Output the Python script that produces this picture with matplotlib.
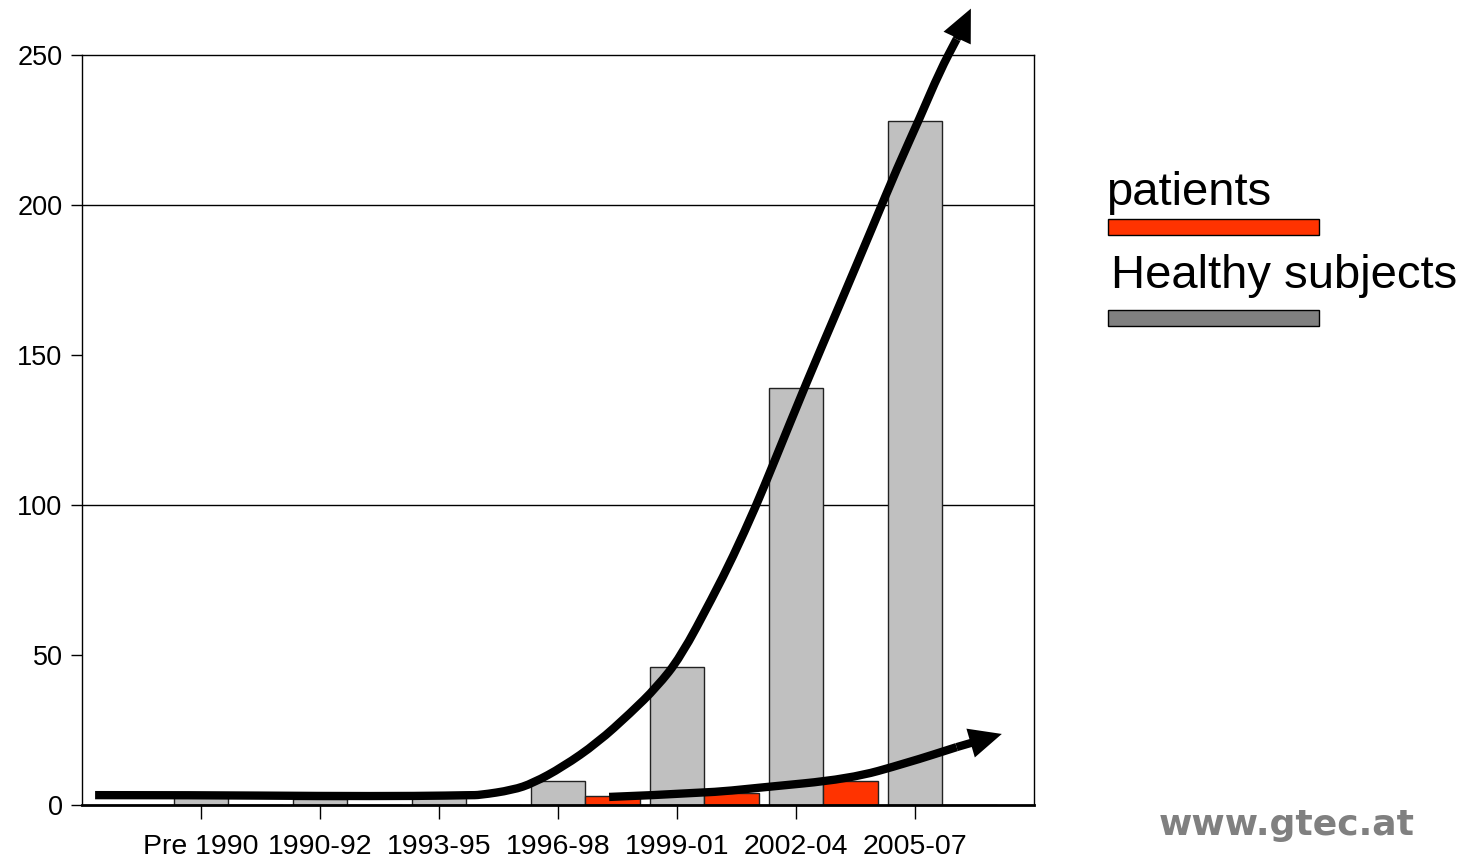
import matplotlib.pyplot as plt
from matplotlib.patches import FancyArrowPatch, PathPatch
from matplotlib.path import Path

categories = ['Pre 1990', '1990-92', '1993-95', '1996-98', '1999-01', '2002-04', '2005-07']
healthy = [3, 2, 3, 8, 46, 139, 228]
patients = [0, 0, 0, 3, 4, 8, 0]

# hand-drawn trend arrows (data units)
trend_healthy_x = [0.11, 0.99, 2.0, 2.84, 3.26, 3.34, 3.62, 3.79, 4.04, 4.33, 4.61, 4.83,
                   5.03, 5.30, 5.47, 5.66, 5.81, 6.09, 6.37, 6.65, 6.85, 7.04, 7.21,
                   7.35, 7.47]
trend_healthy_y = [3.3, 3.3, 3.0, 3.0, 3.3, 3.3, 5.0, 7.3, 12.7, 20.7, 30.7, 39.3,
                   49.3, 69.3, 82.7, 99.3, 113.7, 141, 167, 193.3, 212.3, 229, 244.7,
                   255.3, 265.5]
trend_patients_x = [4.43, 5.25, 5.67, 6.45, 6.93, 7.35, 7.73]
trend_patients_y = [2.7, 4.0, 5.7, 8.7, 14.0, 19.3, 23.7]

plt.rcParams['font.family'] = ['Liberation Sans', 'DejaVu Sans']

fig = plt.figure(figsize=(14.83, 8.61), dpi=100)
ax = fig.add_axes([0.0553, 0.065, 0.6419, 0.871])

w = 0.46
xs = range(1, len(categories) + 1)
ax.bar(xs, healthy, width=w, color='#c0c0c0', edgecolor='#222222', linewidth=1, zorder=2)
ax.bar([x + w for x in xs], patients, width=w, color='#ff3300', edgecolor='#222222',
       linewidth=1, zorder=2)

ax.set_xlim(0, 8)
ax.set_ylim(0, 250)
ax.set_yticks([0, 50, 100, 150, 200, 250])
ax.set_xticks(list(xs))
ax.set_xticklabels(categories, fontsize=20.5)
ax.tick_params(axis='y', labelsize=19.5, length=8, width=1, pad=6)
ax.tick_params(axis='x', length=10, width=1, pad=11)

for yv in (100, 200):
    ax.axhline(yv, color='black', linewidth=1, zorder=1)

for s in ('top', 'right', 'left'):
    ax.spines[s].set_linewidth(1)
ax.spines['bottom'].set_linewidth(2)


def trend_arrow(xv, yv):
    # smooth stroke: quadratic segments through midpoints of the guide points
    pts = list(zip(xv[:-1], yv[:-1]))
    verts = [pts[0]]
    codes = [Path.MOVETO]
    for i in range(1, len(pts) - 1):
        mid = ((pts[i][0] + pts[i + 1][0]) / 2, (pts[i][1] + pts[i + 1][1]) / 2)
        verts += [pts[i], mid]
        codes += [Path.CURVE3, Path.CURVE3]
    verts.append(pts[-1])
    codes.append(Path.LINETO)
    ax.add_patch(PathPatch(Path(verts, codes), fill=False, edgecolor='black', linewidth=6,
                           capstyle='butt', joinstyle='round', clip_on=False, zorder=4))
    arr = FancyArrowPatch((xv[-2], yv[-2]), (xv[-1], yv[-1]),
                          arrowstyle='simple,head_length=1.3,head_width=1.2,tail_width=0.33',
                          mutation_scale=18, facecolor='black', edgecolor='none',
                          linewidth=0, shrinkA=0, shrinkB=0, clip_on=False, zorder=4)
    ax.add_patch(arr)


trend_arrow(trend_healthy_x, trend_healthy_y)
trend_arrow(trend_patients_x, trend_patients_y)

# legend drawn as labelled swatches
fig.text(1106 / 1483, 1 - 205 / 861, 'patients', fontsize=34, ha='left', va='baseline')
fig.patches.append(plt.Rectangle((1108 / 1483, 1 - 235 / 861), 211 / 1483, 16 / 861,
                                 facecolor='#ff3300', edgecolor='black', linewidth=1,
                                 transform=fig.transFigure, figure=fig))
fig.text(1111 / 1483, 1 - 288 / 861, 'Healthy subjects', fontsize=34, ha='left', va='baseline')
fig.patches.append(plt.Rectangle((1108 / 1483, 1 - 326 / 861), 211 / 1483, 16 / 861,
                                 facecolor='#808080', edgecolor='black', linewidth=1,
                                 transform=fig.transFigure, figure=fig))

fig.text(1415 / 1483, 1 - 835 / 861, 'www.gtec.at', fontsize=26, fontweight='bold',
         color='#808080', ha='right', va='baseline', family='DejaVu Sans')

fig.savefig('out.png', dpi=100)
